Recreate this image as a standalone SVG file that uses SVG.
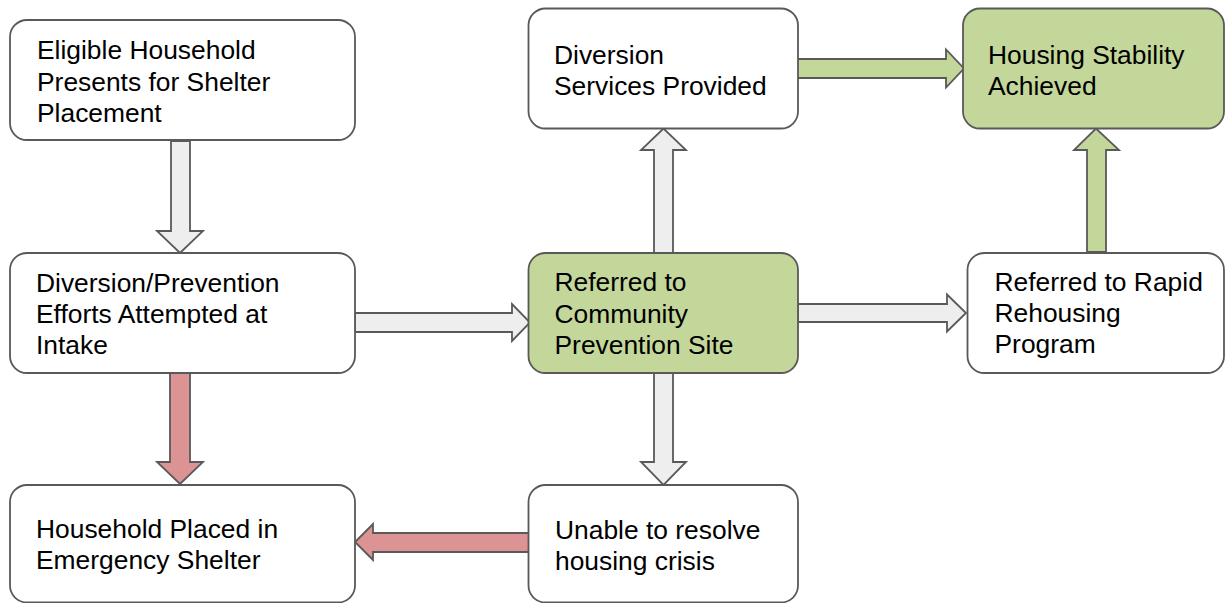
<svg xmlns="http://www.w3.org/2000/svg" width="1226" height="603" viewBox="0 0 1226 603">
<style>
.box{stroke:#595959;stroke-width:1.8}
.w{fill:#ffffff}
.g{fill:#c4d79b}
.t{font-family:"Liberation Sans",Arial,sans-serif;font-size:26.4px;fill:#000000}
.arr{stroke:#595959;stroke-width:1.8;stroke-linejoin:miter}
.ag{fill:#eeeeee}
.ar{fill:#dc9393}
.agr{fill:#c4d79b}
</style>
<rect width="1226" height="603" fill="#ffffff"/>
<g id="connectors">
<polygon class="arr ag" points="171,141 190,141 190,231 203,231 180,253 157,231 171,231"/>
<polygon class="arr ar" points="170,373 190,373 190,462 203,462 180,484 157,462 170,462"/>
<polygon class="arr ag" points="355,313 512,313 512,304 530,322.5 512,341 512,332 355,332"/>
<polygon class="arr ar" points="530,533 373,533 373,524 355,542 373,560 373,552 530,552"/>
<polygon class="arr agr" points="797,59 946,59 946,49.5 964,68.5 946,87.5 946,78 797,78"/>
<polygon class="arr agr" points="1087,252 1087,150 1074,150 1096,128.5 1119,150 1106,150 1106,252"/>
<polygon class="arr ag" points="654,253 654,150 641,150 663.5,128.5 686,150 673,150 673,253"/>
<polygon class="arr ag" points="654,373 673,373 673,462 686,462 663.5,485 641,462 654,462"/>
<polygon class="arr ag" points="798,304 947,304 947,294.5 966,313 947,331.5 947,322 798,322"/>
</g>
<g id="n1">
<rect class="box w" x="10" y="20" width="345" height="120" rx="17"/>
<text class="t" x="37" y="59">Eligible Household</text>
<text class="t" x="37" y="90.5">Presents for Shelter</text>
<text class="t" x="37" y="121.5">Placement</text>
</g>
<g id="n2">
<rect class="box w" x="10" y="253" width="345" height="120" rx="17"/>
<text class="t" x="36" y="291.5">Diversion/Prevention</text>
<text class="t" x="36" y="322.5">Efforts Attempted at</text>
<text class="t" x="36" y="353.5">Intake</text>
</g>
<g id="n3">
<rect class="box w" x="10" y="485" width="345" height="117.5" rx="17"/>
<text class="t" x="36" y="538">Household Placed in</text>
<text class="t" x="36" y="569">Emergency Shelter</text>
</g>
<g id="n4">
<rect class="box w" x="528.5" y="8.5" width="269.5" height="120" rx="17"/>
<text class="t" x="554" y="63.5">Diversion</text>
<text class="t" x="554" y="95">Services Provided</text>
</g>
<g id="n5">
<rect class="box g" x="528.5" y="253" width="269.5" height="120" rx="17"/>
<text class="t" x="554.5" y="291">Referred to</text>
<text class="t" x="554.5" y="322.5">Community</text>
<text class="t" x="554.5" y="354">Prevention Site</text>
</g>
<g id="n6">
<rect class="box w" x="528.5" y="485" width="269.5" height="117.5" rx="17"/>
<text class="t" x="555" y="539">Unable to resolve</text>
<text class="t" x="555" y="570">housing crisis</text>
</g>
<g id="n7">
<rect class="box g" x="963" y="8.5" width="261" height="120" rx="17"/>
<text class="t" x="988" y="63.5">Housing Stability</text>
<text class="t" x="988" y="94.5">Achieved</text>
</g>
<g id="n8">
<rect class="box w" x="967.5" y="253" width="256.5" height="120" rx="17"/>
<text class="t" x="994.5" y="291">Referred to Rapid</text>
<text class="t" x="994.5" y="322">Rehousing</text>
<text class="t" x="994.5" y="353">Program</text>
</g>
</svg>
